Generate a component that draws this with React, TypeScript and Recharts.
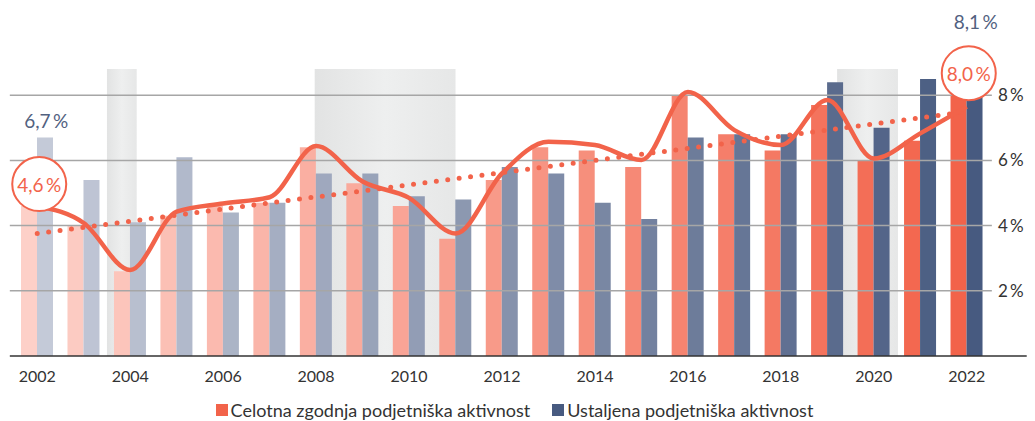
import {
  ComposedChart,
  Bar,
  Line,
  XAxis,
  YAxis,
  ReferenceArea,
  ReferenceLine,
  Legend,
  Cell,
  LabelList,
} from "recharts";

const years = [
  "2002", "2003", "2004", "2005", "2006", "2007", "2008", "2009", "2010", "2011", "2012",
  "2013", "2014", "2015", "2016", "2017", "2018", "2019", "2020", "2021", "2022",
];
const earlyActivity = [4.6, 4.0, 2.6, 4.3, 4.6, 4.7, 6.4, 5.3, 4.6, 3.6, 5.4, 6.4, 6.3, 5.8, 8.0, 6.8, 6.3, 7.7, 6.0, 6.6, 8.0];
const establishedActivity = [6.7, 5.4, 4.1, 6.1, 4.4, 4.7, 5.6, 5.6, 4.9, 4.8, 5.8, 5.6, 4.7, 4.2, 6.7, 6.8, 6.8, 8.4, 7.0, 8.5, 8.1];
const smoothedEarly = [4.6, 4.08, 2.64, 4.43, 4.68, 4.87, 6.44, 5.35, 4.85, 3.76, 5.6, 6.57, 6.47, 6.01, 8.1, 6.93, 6.47, 7.85, 6.06, 6.83, 7.65];
const trendStart = 3.76;
const trendEnd = 7.49;
const yTicks = [2, 4, 6, 8];
const recessions = [
  [2003.5, 2004.14],
  [2007.97, 2011.0],
  [2019.21, 2020.52],
];
const recessionTop = 8.8;

const ORANGE = "#f2634a";
const ORANGE_LIGHT = "#fdd0c8";
const BLUE = "#475a80";
const BLUE_LIGHT = "#c4cad8";
const TEXT = "#333333";

// linear blend between two hex colours, used for the year-by-year shading of the bars
function mix(a: string, b: string, t: number) {
  const pa = [1, 3, 5].map((i) => parseInt(a.slice(i, i + 2), 16));
  const pb = [1, 3, 5].map((i) => parseInt(b.slice(i, i + 2), 16));
  return (
    "#" +
    pa
      .map((v, i) => Math.round(v + (pb[i] - v) * t).toString(16).padStart(2, "0"))
      .join("")
  );
}

const last = years.length - 1;

const data = years.map((year, i) => ({
  year,
  yearNum: Number(year),
  early: earlyActivity[i],
  established: establishedActivity[i],
  smooth: smoothedEarly[i],
  trend: i === 0 ? trendStart : i === last ? trendEnd : null,
}));

const fmt = (v: number) => v.toFixed(1).replace(".", ",") + "\u2009%";

const EarlyCallout = (props: any) => {
  const { x, y, index, value } = props;
  if (index !== 0 && index !== last) return null;
  const cx = x + 2;
  const cy = y - 22;
  return (
    <g>
      <circle cx={cx} cy={cy} r={27} fill="#fff" stroke={ORANGE} strokeWidth={2} />
      <text x={cx} y={cy} textAnchor="middle" dominantBaseline="central" fill={ORANGE} fontSize={19}>
        {fmt(value)}
      </text>
    </g>
  );
};

const EstablishedCallout = (props: any) => {
  const { x, y, index, value } = props;
  if (index !== 0 && index !== last) return null;
  const dy = index === 0 ? -17 : -70;
  return (
    <text x={x + 9} y={y + dy} textAnchor="middle" dominantBaseline="central" fill="#52617f" fontSize={19}>
      {fmt(value)}
    </text>
  );
};

const legendItems = [
  { label: "Celotna zgodnja podjetniška aktivnost", color: ORANGE },
  { label: "Ustaljena podjetniška aktivnost", color: BLUE },
];

const ChartLegend = () => (
  <div
    style={{
      display: "flex",
      justifyContent: "center",
      gap: 22,
      height: 35,
      paddingTop: 12,
      boxSizing: "border-box",
      fontFamily: "Lato",
      fontSize: 18,
      lineHeight: "20px",
      color: TEXT,
      transform: "translateX(-10px)",
    }}
  >
    {legendItems.map((item) => (
      <div key={item.label} style={{ display: "flex", alignItems: "center", gap: 3 }}>
        <span style={{ width: 12, height: 12, background: item.color, display: "inline-block" }} />
        <span>{item.label}</span>
      </div>
    ))}
  </div>
);

export default function App() {
  return (
    <div style={{ position: "absolute", left: 0, top: 0 }}>
      <ComposedChart
        width={1035}
        height={421}
        data={data}
        margin={{ top: 30, right: 0, bottom: 0, left: 14 }}
        barSize={16}
        barGap={0}
        style={{ fontFamily: "Lato" }}
      >
        <defs>
          <linearGradient id="recessionFill" x1="0" y1="0" x2="1" y2="0">
            <stop offset="0%" stopColor="#e2e3e3" />
            <stop offset="50%" stopColor="#eeefef" />
            <stop offset="100%" stopColor="#e6e7e7" />
          </linearGradient>
        </defs>
        <XAxis
          dataKey="year"
          interval={1}
          axisLine={false}
          tickLine={false}
          tickMargin={9}
          height={30}
          tick={{ fontSize: 16, fill: TEXT }}
        />
        <XAxis xAxisId="num" dataKey="yearNum" type="number" domain={[2001.5, 2022.5]} hide />
        <YAxis
          orientation="right"
          domain={[0, 10]}
          ticks={yTicks}
          width={45}
          axisLine={false}
          tickLine={false}
          tickFormatter={(v: number) => `${v}\u2009%`}
          tick={{ fontSize: 17, fill: TEXT }}
        />
        {recessions.map(([from, to]) => (
          <ReferenceArea
            key={from}
            xAxisId="num"
            x1={from}
            x2={to}
            y1={0}
            y2={recessionTop}
            fill="url(#recessionFill)"
            fillOpacity={1}
            stroke="none"
          />
        ))}
        {yTicks.map((t) => (
          <ReferenceLine
            key={t}
            xAxisId="num"
            segment={[
              { x: 2001.41, y: t },
              { x: 2022.54, y: t },
            ]}
            stroke="#a6a6a6"
            strokeWidth={1.5}
            ifOverflow="visible"
          />
        ))}
        <ReferenceLine
          xAxisId="num"
          segment={[
            { x: 2001.41, y: 0 },
            { x: 2023.29, y: 0 },
          ]}
          stroke="#333"
          strokeWidth={1.5}
          ifOverflow="visible"
        />
        <Bar dataKey="early" name="Celotna zgodnja podjetniška aktivnost" isAnimationActive={false}>
          {data.map((d, i) => (
            <Cell key={d.year} fill={mix(ORANGE_LIGHT, ORANGE, i / last)} />
          ))}
        </Bar>
        <Bar dataKey="established" name="Ustaljena podjetniška aktivnost" isAnimationActive={false}>
          {data.map((d, i) => (
            <Cell key={d.year} fill={mix(BLUE_LIGHT, BLUE, i / last)} />
          ))}
        </Bar>
        <Line
          dataKey="trend"
          connectNulls
          stroke={ORANGE}
          strokeWidth={5}
          strokeLinecap="round"
          strokeDasharray="0 11.5"
          dot={false}
          isAnimationActive={false}
        />
        <Line
          dataKey="smooth"
          type="monotone"
          stroke={ORANGE}
          strokeWidth={4.5}
          dot={false}
          isAnimationActive={false}
        />
        <Line dataKey="early" stroke="none" dot={false} isAnimationActive={false}>
          <LabelList dataKey="early" content={EarlyCallout} />
        </Line>
        <Line dataKey="established" stroke="none" dot={false} isAnimationActive={false}>
          <LabelList dataKey="established" content={EstablishedCallout} />
        </Line>
        <Legend verticalAlign="bottom" content={ChartLegend} />
      </ComposedChart>
    </div>
  );
}
